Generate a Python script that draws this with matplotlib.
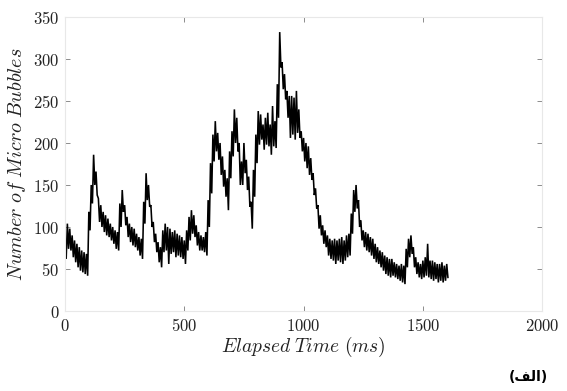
import numpy as np
import matplotlib
matplotlib.use("Agg")
import matplotlib.pyplot as plt
from matplotlib.ticker import FuncFormatter

# ---- data (upper / lower edges of the noisy trace, every 10 ms) ----
upper_counts = [88, 104, 98, 90, 84, 80, 76, 72, 70, 68,
                118, 150, 186, 166, 134, 126, 118, 114, 110, 104,
                100, 96, 94, 128, 144, 126, 112, 104, 100, 98,
                92, 88, 86, 130, 164, 150, 126, 106, 92, 82,
                76, 96, 104, 100, 98, 94, 96, 92, 90, 88,
                84, 96, 112, 120, 114, 102, 94, 90, 88, 94,
                132, 176, 210, 226, 212, 200, 184, 168, 158, 190,
                214, 240, 230, 200, 178, 200, 180, 160, 130, 168,
                210, 238, 234, 222, 230, 236, 222, 244, 226, 270,
                332, 296, 282, 262, 256, 256, 254, 262, 240, 214,
                206, 200, 196, 182, 164, 146, 126, 114, 102, 96,
                90, 86, 84, 86, 84, 86, 88, 84, 90, 92,
                116, 144, 150, 132, 108, 96, 94, 92, 88, 86,
                80, 76, 72, 70, 66, 64, 62, 62, 58, 56,
                54, 56, 54, 74, 86, 90, 76, 64, 58, 56,
                60, 64, 80, 60, 60, 58, 56, 56, 58, 54, 56]
lower_counts = [62, 74, 72, 64, 58, 52, 48, 46, 44, 42,
                96, 128, 150, 138, 106, 100, 94, 90, 88, 84,
                80, 74, 72, 100, 118, 102, 88, 82, 78, 76,
                72, 66, 62, 104, 132, 124, 100, 82, 70, 58,
                52, 70, 72, 56, 68, 70, 64, 66, 64, 62,
                56, 72, 84, 92, 88, 78, 72, 72, 70, 66,
                100, 140, 178, 190, 180, 162, 148, 136, 120, 158,
                184, 200, 190, 150, 150, 164, 144, 124, 98, 136,
                176, 198, 204, 192, 198, 196, 186, 196, 194, 230,
                290, 264, 252, 230, 206, 210, 204, 212, 206, 190,
                178, 170, 162, 156, 138, 122, 98, 90, 80, 76,
                66, 62, 60, 56, 60, 58, 56, 60, 64, 66,
                92, 118, 122, 100, 84, 76, 72, 70, 66, 62,
                58, 56, 52, 48, 44, 42, 40, 42, 40, 38,
                36, 34, 32, 52, 64, 68, 52, 44, 40, 38,
                40, 42, 40, 38, 36, 38, 34, 36, 34, 36, 40]
sample_step_ms = 5
x_ticks = [0, 500, 1000, 1500, 2000]
y_ticks = [0, 50, 100, 150, 200, 250, 300, 350]

bubbles = np.column_stack([upper_counts, lower_counts]).ravel()
elapsed_ms = np.arange(len(bubbles)) * sample_step_ms

plt.rcParams['mathtext.fontset'] = 'cm'

fig = plt.figure(figsize=(5.67, 3.91), dpi=100)
ax = fig.add_axes([0.1146, 0.2046, 0.8416, 0.752])
ax.plot(elapsed_ms, bubbles, color='black', linewidth=1.15, solid_joinstyle='miter')

ax.set_xlim(0, 2000)
ax.set_ylim(0, 350)
ax.set_xticks(x_ticks)
ax.set_yticks(y_ticks)
fmt = FuncFormatter(lambda v, p: f'${v:.0f}$')
ax.xaxis.set_major_formatter(fmt)
ax.yaxis.set_major_formatter(fmt)
ax.tick_params(direction='in', length=3.5, width=0.6, color='#7a7a7a',
               top=True, right=True, labelsize=12, labelcolor='#222222', pad=4)
for s in ax.spines.values():
    s.set_color('#e8e8e8')
    s.set_linewidth(0.8)

ax.set_xlabel(r'$Elapsed\;Time\ (ms)$', fontsize=14, color='#222222', labelpad=0)
ax.set_ylabel(r'$Number\ of\ Micro\ Bubbles$', fontsize=14.5, color='#222222', labelpad=4)

fig.text(0.967, 0.035, '(\uFED2\uFEDF\uFE8D)', ha='right', va='center',
         family='DejaVu Sans', fontweight='bold', fontsize=10)

fig.savefig('out.png', dpi=100)
